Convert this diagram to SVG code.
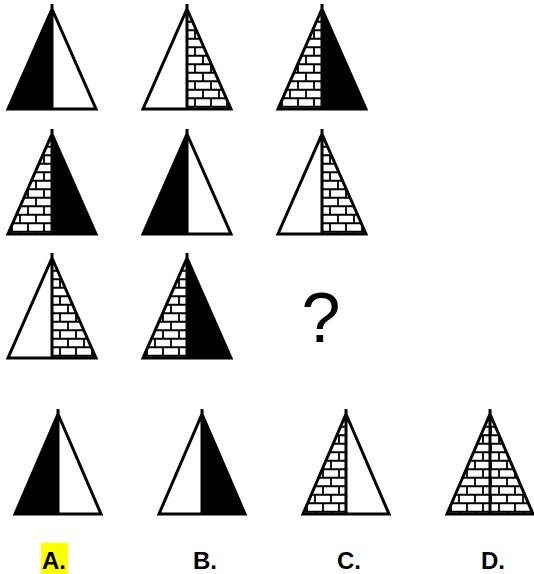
<svg xmlns="http://www.w3.org/2000/svg" xmlns:xlink="http://www.w3.org/1999/xlink" width="534" height="574" viewBox="0 0 534 574">
  <style>
    .ol { fill: none; stroke: #000; stroke-width: 3; stroke-linejoin: miter; stroke-miterlimit: 10; }
    .blk { fill: #000; }
    .wht { fill: #fff; }
    .brk { fill: url(#brick); }
    .lbl { font-family: "Liberation Sans", Arial, sans-serif; font-weight: bold; font-size: 24px; fill: #000; }
    .q { font-family: "Liberation Sans", Arial, sans-serif; font-size: 70px; fill: #000; }
  </style>
  <defs>
    <pattern id="brick" patternUnits="userSpaceOnUse" x="0" y="0" width="16" height="17">
      <rect width="16" height="17" fill="#fff"/>
      <path d="M0,4.25 H16 M0,12.75 H16 M4,4.25 V12.75 M12,12.75 V17 M12,0 V4.25" stroke="#000" stroke-width="1.8" fill="none"/>
    </pattern>
    <path id="gL" d="M0,100 L44,0 L44,100 Z"/>
    <path id="gR" d="M44,0 L88,100 L44,100 Z"/>
    <path id="gO" d="M44,0 L88,100 L0,100 Z M44,-5 V100"/>
    <path id="oL" d="M0,100 L43,0 L43,100 Z"/>
    <path id="oR" d="M43,0 L86,100 L43,100 Z"/>
    <path id="oO" d="M43,0 L86,100 L0,100 Z M43,-5 V100"/>
  </defs>
  <rect width="534" height="574" fill="#fff"/>

  <g id="r1c1" transform="translate(8,9)">
    <use xlink:href="#gL" class="blk"/><use xlink:href="#gR" class="wht"/><use xlink:href="#gO" class="ol"/>
  </g>
  <g id="r1c2" transform="translate(143,9)">
    <use xlink:href="#gL" class="wht"/><use xlink:href="#gR" class="brk"/><use xlink:href="#gO" class="ol"/>
  </g>
  <g id="r1c3" transform="translate(278,9)">
    <use xlink:href="#gL" class="brk"/><use xlink:href="#gR" class="blk"/><use xlink:href="#gO" class="ol"/>
  </g>

  <g id="r2c1" transform="translate(8,134)">
    <use xlink:href="#gL" class="brk"/><use xlink:href="#gR" class="blk"/><use xlink:href="#gO" class="ol"/>
  </g>
  <g id="r2c2" transform="translate(143,134)">
    <use xlink:href="#gL" class="blk"/><use xlink:href="#gR" class="wht"/><use xlink:href="#gO" class="ol"/>
  </g>
  <g id="r2c3" transform="translate(278,134)">
    <use xlink:href="#gL" class="wht"/><use xlink:href="#gR" class="brk"/><use xlink:href="#gO" class="ol"/>
  </g>

  <g id="r3c1" transform="translate(8,258)">
    <use xlink:href="#gL" class="wht"/><use xlink:href="#gR" class="brk"/><use xlink:href="#gO" class="ol"/>
  </g>
  <g id="r3c2" transform="translate(143,258)">
    <use xlink:href="#gL" class="brk"/><use xlink:href="#gR" class="blk"/><use xlink:href="#gO" class="ol"/>
  </g>
  <g id="r3c3">
    <text class="q" x="321" y="342" text-anchor="middle">?</text>
  </g>

  <g id="optA" transform="translate(15,414)">
    <use xlink:href="#oL" class="blk"/><use xlink:href="#oR" class="wht"/><use xlink:href="#oO" class="ol"/>
  </g>
  <g id="optB" transform="translate(159,414)">
    <use xlink:href="#oL" class="wht"/><use xlink:href="#oR" class="blk"/><use xlink:href="#oO" class="ol"/>
  </g>
  <g id="optC" transform="translate(303,414)">
    <use xlink:href="#oL" class="brk"/><use xlink:href="#oR" class="wht"/><use xlink:href="#oO" class="ol"/>
  </g>
  <g id="optD" transform="translate(447,414)">
    <use xlink:href="#oL" class="brk"/><use xlink:href="#oR" class="brk"/><use xlink:href="#oO" class="ol"/>
  </g>

  <g id="labels">
    <rect x="41" y="543" width="27" height="31" fill="#ffff00"/>
    <text class="lbl" x="42" y="569">A.</text>
    <text class="lbl" x="193" y="569">B.</text>
    <text class="lbl" x="337" y="569">C.</text>
    <text class="lbl" x="481" y="569">D.</text>
  </g>
  <g id="connectors"/>
</svg>
